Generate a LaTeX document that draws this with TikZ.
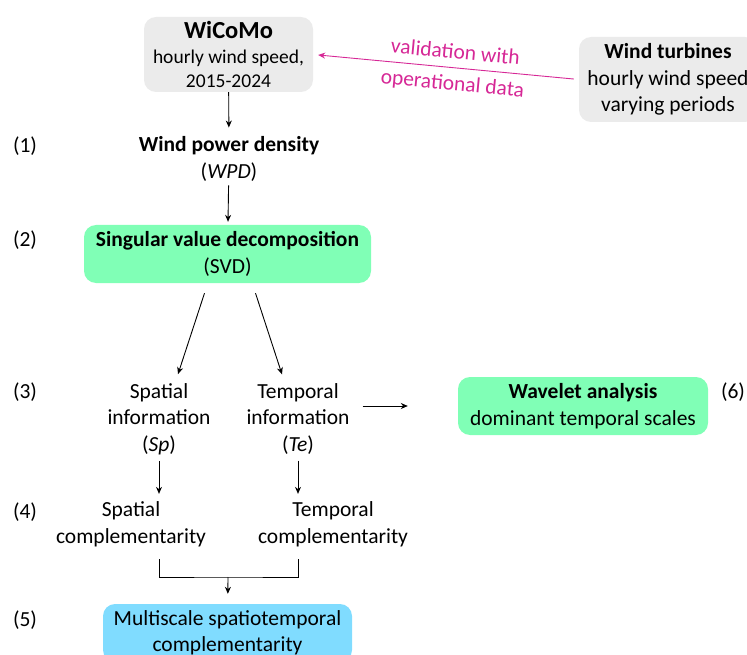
\documentclass[tikz,border=0pt]{standalone}
\usepackage{fontspec}
\setmainfont{Carlito}
\usetikzlibrary{arrows.meta, positioning, calc}
\definecolor{boxgrey}{RGB}{235,235,235}
\definecolor{boxgreen}{RGB}{128,255,182}
\definecolor{boxblue}{RGB}{128,220,255}
\definecolor{valmag}{RGB}{214,40,150}

\begin{document}
\begin{tikzpicture}[
  x=1pt, y=-1pt,
  font=\fontsize{21.5}{26.5}\selectfont,
  box/.style={rounded corners=12pt, align=center, inner sep=0pt},
  txt/.style={align=center, inner sep=0pt},
  num/.style={inner sep=0pt},
  arr/.style={-{Stealth[length=7pt,width=6pt]}, line width=0.9pt},
  valarr/.style={-{Stealth[length=7pt,width=6pt]}, line width=0.9pt, draw=valmag},
]
  \clip (0,0) rectangle (747,655);

  % sources
  \node[box, fill=boxgrey, minimum width=169pt, minimum height=75pt,
        font=\fontsize{19.5}{24.5}\selectfont] (wicomo) at (228.5,54.5)
    {{\fontsize{24.5}{24.5}\selectfont\bfseries WiCoMo}\\hourly wind speed,\\2015-2024};
  \node[box, fill=boxgrey, minimum width=178pt, minimum height=85pt] (turb) at (668,79.5)
    {\textbf{Wind turbines}\\hourly wind speed\\varying periods};

  % steps
  \node[txt] (wpd) at (229,159) {\textbf{Wind power density}\\(\textit{WPD})};
  \node[box, fill=boxgreen, minimum width=287pt, minimum height=58pt] (svd) at (227.5,254)
    {\textbf{Singular value decomposition}\\(SVD)};
  \node[txt] (sp) at (159,419) {Spatial\\information\\(\textit{Sp})};
  \node[txt] (te) at (298,419) {Temporal\\information\\(\textit{Te})};
  \node[box, fill=boxgreen, minimum width=250pt, minimum height=58pt] (wav) at (583,406)
    {\textbf{Wavelet analysis}\\dominant temporal scales};
  \node[txt] (spc) at (131,524.5) {Spatial\\complementarity};
  \node[txt] (tec) at (333,524.5) {Temporal\\complementarity};
  \node[box, fill=boxblue, minimum width=249pt, minimum height=58pt] (multi) at (227.5,633)
    {Multiscale spatiotemporal\\complementarity};

  % step numbers
  \node[num] (lbl1) at (25,146) {(1)};
  \node[num] (lbl2) at (25,240) {(2)};
  \node[num] (lbl3) at (25,392) {(3)};
  \node[num] (lbl4) at (25,512) {(4)};
  \node[num] (lbl5) at (25,620) {(5)};
  \node[num] (lbl6) at (733,392) {(6)};

  \coordinate (join) at (228,577);

  \draw[valarr, shorten <=5pt, shorten >=5pt] (turb.west) -- (wicomo.east)
    node[pos=0.47, sloped, above=5pt, text=valmag] (valtop) {validation with}
    node[pos=0.47, sloped, below=4pt, text=valmag] (valbot) {operational data};
  \draw[arr, shorten >=9pt] (wicomo) -- (wpd);
  \draw[arr, shorten <=4pt, shorten >=3pt] (wpd) -- (svd);
  \draw[arr] ($(svd.south)+(-23,10)$) -- ($(sp.north)+(19,-9)$);
  \draw[arr] ($(svd.south)+(28,10)$) -- ($(te.north)+(-16,-9)$);
  \draw[arr, shorten <=13pt, shorten >=50pt] (te.east |- wav.west) -- (wav.west);
  \draw[arr, shorten <=6pt, shorten >=8pt] (sp.south) -- (sp.south |- spc.north);
  \draw[arr, shorten <=6pt, shorten >=8pt] (te.south) -- (te.south |- tec.north);
  \draw[line width=0.9pt, shorten <=12pt, shorten >=12pt]
    (spc.south -| sp.south) |- (join) -| (tec.south -| te.south);
  \draw[arr, shorten >=10pt] (join) -- (multi);
\end{tikzpicture}
\end{document}
